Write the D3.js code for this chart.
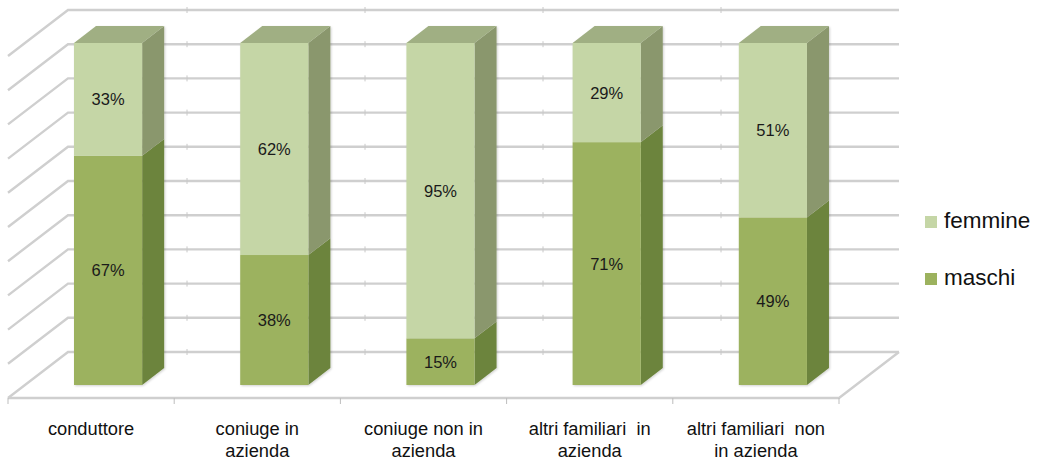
<!DOCTYPE html>
<html>
<head>
<meta charset="utf-8">
<script src="https://cdn.jsdelivr.net/npm/d3@7"></script>
<style>
  html, body { margin: 0; padding: 0; background: #fff; }
  svg { display: block; font-family: "Liberation Sans", Arial, sans-serif; }
</style>
</head>
<body>
<svg id="chart" width="1043" height="462"></svg>
<script>
// Categories (line breaks mark wrapped labels)
const categories = [
  "conduttore",
  "coniuge in\nazienda",
  "coniuge non in\nazienda",
  "altri familiari  in\nazienda",
  "altri familiari  non\nin azienda"
];
// Series values as labelled (percent)
const maschi  = [67, 38, 15, 71, 49];
const femmine = [33, 62, 95, 29, 51];
const seriesNames = ["maschi", "femmine"];
const gridTicks = [0, 10, 20, 30, 40, 50, 60, 70, 80, 90, 100];

const svg = d3.select("#chart");

// 3-D box: front floor edge, depth offset toward the back wall
const DX = 60, DY = -46;
const x = d3.scaleBand().domain(categories).range([8, 839]).paddingInner(0).paddingOuter(0);
const y = d3.scaleLinear().domain([0, 100]).range([398, 56]);
const P = (px, v, d) => [px + DX * d, y(v) + DY * d];
const pts = arr => arr.map(p => p.join(",")).join(" ");

const colors = {
  femmine: { front: "#c5d6a6", side: "#8a976d", top: "#a0af83" },
  maschi:  { front: "#9cb25e", side: "#6c843d", top: "#879c50" }
};

const defs = svg.append("defs");
defs.append("filter").attr("id", "soft").attr("x", "-5%").attr("y", "-50%").attr("width", "110%").attr("height", "200%")
  .append("feGaussianBlur").attr("stdDeviation", 0.7);
defs.append("filter").attr("id", "shadow").attr("x", "-20%").attr("y", "-20%").attr("width", "140%").attr("height", "140%")
  .append("feDropShadow").attr("dx", 1).attr("dy", 1).attr("stdDeviation", 1.2).attr("flood-color", "#000").attr("flood-opacity", 0.18);

// Walls and floor gridlines
const grid = svg.append("g").attr("filter", "url(#soft)")
  .attr("stroke", "#cfcfcf").attr("stroke-width", 2.4).attr("fill", "none");
const x0 = x.range()[0], x1 = x.range()[1];
gridTicks.forEach(v => {
  grid.append("polyline").attr("points", pts([P(x0, v, 0), P(x0, v, 1), P(x1, v, 1)]));
});
// floor front and right edges
grid.append("polyline").attr("points", pts([P(x0, 0, 0), P(x1, 0, 0), P(x1, 0, 1)]));

// small ticks on the back wall gridlines
const backTicks = d3.range(0, 4).map(i => P(x1, 0, 1)[0] - 178 * (i + 1));
const tk = svg.append("g").attr("stroke", "#c8c8c8").attr("stroke-width", 1);
gridTicks.forEach(v => {
  const yy = P(0, v, 1)[1];
  backTicks.forEach(bx => {
    tk.append("line").attr("x1", bx).attr("x2", bx).attr("y1", yy - 3).attr("y2", yy + 3);
  });
});
// category ticks on the floor front edge
categories.map(c => x(c)).concat([x1]).forEach(cx => {
  tk.append("line").attr("x1", cx).attr("x2", cx).attr("y1", y(0)).attr("y2", y(0) + 6).attr("stroke", "#bdbdbd");
});

// Stacked 100% bars
const D0 = 0.283, D1 = 0.65;
const barW = x.bandwidth() * 0.41;
const rows = categories.map((c, i) => ({ cat: c, maschi: maschi[i], femmine: femmine[i] }));
const stack = d3.stack().keys(seriesNames).offset(d3.stackOffsetExpand);
const layers = stack(rows);
const values = { maschi, femmine };

const bars = svg.append("g");
const labels = svg.append("g").attr("font-size", 16.5).attr("fill", "#1a1a1a").attr("text-anchor", "middle");

categories.forEach((c, i) => {
  const left = x(c) + (x.bandwidth() - barW) / 2;
  const right = left + barW;
  const g = bars.append("g").attr("filter", "url(#shadow)");
  layers.forEach((layer, k) => {
    const v0 = layer[i][0] * 100, v1 = layer[i][1] * 100;
    const col = colors[layer.key];
    // side face
    g.append("polygon")
      .attr("points", pts([P(right, v0, D0), P(right, v0, D1), P(right, v1, D1), P(right, v1, D0)]))
      .attr("fill", col.side);
    // front face
    const fl = P(left, v1, D0), fr = P(right, v0, D0);
    g.append("rect").attr("x", fl[0]).attr("y", fl[1]).attr("width", fr[0] - fl[0]).attr("height", fr[1] - fl[1])
      .attr("fill", col.front);
    // top face of the stack
    if (k === layers.length - 1) {
      g.append("polygon")
        .attr("points", pts([P(left, v1, D0), P(right, v1, D0), P(right, v1, D1), P(left, v1, D1)]))
        .attr("fill", col.top);
    }
    const mid = P((left + right) / 2, (v0 + v1) / 2, D0);
    labels.append("text").attr("x", mid[0]).attr("y", mid[1] + 6)
      .text(values[layer.key][i] + "%");
  });
});

// category labels
const catG = svg.append("g").attr("font-size", 18.3).attr("fill", "#111").attr("text-anchor", "middle");
categories.forEach(c => {
  const cx = x(c) + x.bandwidth() / 2;
  c.split("\n").forEach((line, j) => {
    catG.append("text").attr("x", cx).attr("y", 435 + j * 21.5)
      .attr("xml:space", "preserve").style("white-space", "pre").text(line);
  });
});

// legend
const legend = svg.append("g").attr("font-size", 22.5).attr("fill", "#111");
const legendItems = [
  { name: "femmine", y: 228 },
  { name: "maschi", y: 285 }
];
legendItems.forEach(it => {
  legend.append("rect").attr("x", 925).attr("y", it.y - 12).attr("width", 12).attr("height", 12)
    .attr("fill", colors[it.name].front);
  legend.append("text").attr("x", 944).attr("y", it.y).text(it.name);
});
</script>
</body>
</html>
